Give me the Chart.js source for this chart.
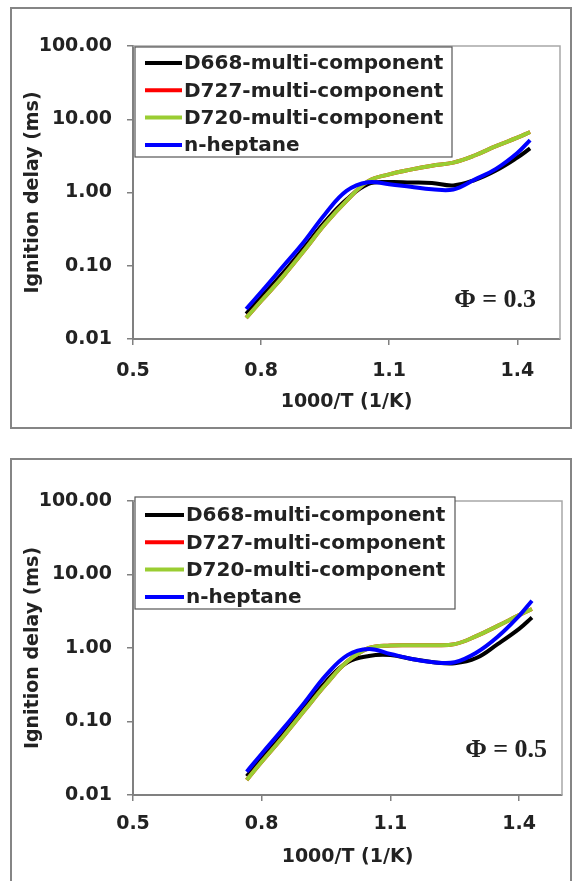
<!DOCTYPE html>
<html>
<head>
<meta charset="utf-8">
<script src="https://cdn.jsdelivr.net/npm/chart.js@4/dist/chart.umd.min.js"></script>
<style>
  html, body { margin: 0; padding: 0; background: #fff; }
  body { width: 576px; height: 881px; position: relative; overflow: hidden; }
  .frame { position: absolute; border: 2px solid #858585; box-sizing: border-box; }
  canvas { position: absolute; left: 0; }
</style>
</head>
<body>
<div class="frame" style="left:10px;top:7px;width:562px;height:422px"></div>
<div class="frame" style="left:10px;top:458px;width:562px;height:470px"></div>
<canvas id="phi03" width="576" height="440" style="top:0"></canvas>
<canvas id="phi05" width="576" height="441" style="top:440px"></canvas>
<script>
// 1000/T (1/K) sample positions shared by all curves
const xValues = [0.765, 0.80, 0.85, 0.90, 0.95, 1.00, 1.05, 1.10, 1.15, 1.20, 1.25, 1.30, 1.35, 1.40, 1.43];

const seriesNames = ['D668-multi-component', 'D727-multi-component', 'D720-multi-component', 'n-heptane'];
const seriesColors = ['#000000', '#ff0000', '#9acd32', '#0000ff'];
// later series are drawn over earlier ones
const seriesOrder = [4, 3, 2, 1];

const yTickValues = [0.01, 0.1, 1, 10, 100];
const xTickValues = [0.5, 0.8, 1.1, 1.4];

// Ignition delay (ms), equivalence ratio 0.3
const d668Phi03 = [0.022, 0.037, 0.078, 0.175, 0.40, 0.80, 1.30, 1.39, 1.37, 1.35, 1.25, 1.48, 2.0, 3.0, 4.0];
const d727Phi03 = [0.0194, 0.033, 0.070, 0.159, 0.372, 0.77, 1.42, 1.77, 2.05, 2.32, 2.56, 3.2, 4.3, 5.6, 6.7];
const d720Phi03 = [0.0194, 0.033, 0.070, 0.159, 0.372, 0.77, 1.42, 1.77, 2.05, 2.32, 2.56, 3.2, 4.3, 5.6, 6.7];
const heptanePhi03 = [0.0257, 0.0438, 0.096, 0.211, 0.509, 1.05, 1.38, 1.30, 1.20, 1.11, 1.10, 1.50, 2.1, 3.46, 5.2];

// Ignition delay (ms), equivalence ratio 0.5
const d668Phi05 = [0.018, 0.031, 0.067, 0.155, 0.35, 0.64, 0.78, 0.80, 0.71, 0.64, 0.62, 0.73, 1.13, 1.82, 2.6];
const d727Phi05 = [0.016, 0.0283, 0.062, 0.142, 0.321, 0.66, 1.0, 1.08, 1.09, 1.09, 1.13, 1.45, 2.0, 2.8, 3.4];
const d720Phi05 = [0.016, 0.0283, 0.062, 0.142, 0.321, 0.66, 1.0, 1.08, 1.09, 1.09, 1.13, 1.45, 2.0, 2.8, 3.4];
const heptanePhi05 = [0.0207, 0.0365, 0.080, 0.182, 0.427, 0.80, 0.97, 0.83, 0.71, 0.64, 0.64, 0.86, 1.42, 2.74, 4.4];

const SANS = '"DejaVu Sans", sans-serif';
const TEXT = '#222222';
const AXIS = '#808080';

// Frame lines, boxed legend and the phi annotation
const panelDecor = {
  id: 'panelDecor',
  beforeDatasetsDraw(chart) {
    const { ctx, chartArea: a } = chart;
    ctx.save();
    ctx.strokeStyle = '#a8a8a8';
    ctx.lineWidth = 1.5;
    ctx.beginPath();
    ctx.moveTo(a.left, a.top);
    ctx.lineTo(a.right, a.top);
    ctx.lineTo(a.right, a.bottom);
    ctx.stroke();
    ctx.restore();
  },
  afterDatasetsDraw(chart, args, o) {
    const { ctx, chartArea: a } = chart;
    ctx.save();
    const L = o.legend;
    ctx.fillStyle = '#ffffff';
    ctx.fillRect(L.x, L.y, L.w, L.h);
    ctx.strokeStyle = '#555555';
    ctx.lineWidth = 1.2;
    ctx.strokeRect(L.x, L.y, L.w, L.h);
    ctx.font = 'bold 20px ' + SANS;
    ctx.textBaseline = 'middle';
    ctx.textAlign = 'left';
    chart.data.datasets.forEach((ds, i) => {
      const cy = L.row0 + i * L.gap;
      ctx.strokeStyle = ds.borderColor;
      ctx.lineWidth = 4;
      ctx.beginPath();
      ctx.moveTo(L.lineX0, cy);
      ctx.lineTo(L.lineX1, cy);
      ctx.stroke();
      ctx.fillStyle = TEXT;
      ctx.fillText(ds.label, L.textX, cy + 1);
    });
    ctx.font = 'bold 26px "Liberation Serif", "Times New Roman", serif';
    ctx.fillStyle = TEXT;
    ctx.textAlign = 'right';
    ctx.textBaseline = 'middle';
    ctx.fillText(o.phiText, a.right - o.phiRight, a.bottom - o.phiUp);
    ctx.restore();
  }
};

function makePanel(id, series, cfg) {
  const canvas = document.getElementById(id);
  const H = canvas.height;
  const datasets = series.map((vals, i) => ({
    label: seriesNames[i],
    data: xValues.map((x, k) => ({ x: x, y: vals[k] })),
    borderColor: seriesColors[i],
    backgroundColor: seriesColors[i],
    order: seriesOrder[i],
    borderWidth: 4,
    pointRadius: 0,
    fill: false,
    tension: 0.4
  }));
  return new Chart(canvas, {
    type: 'line',
    data: { datasets },
    plugins: [panelDecor],
    options: {
      responsive: false,
      animation: false,
      devicePixelRatio: 1,
      layout: { padding: { left: 0, top: cfg.top, right: 576 - cfg.right, bottom: 0 } },
      plugins: {
        legend: { display: false },
        tooltip: { enabled: false },
        panelDecor: { legend: cfg.legend, phiText: cfg.phiText, phiRight: cfg.phiRight, phiUp: cfg.phiUp }
      },
      scales: {
        x: {
          type: 'linear',
          min: 0.5,
          max: 1.5,
          afterBuildTicks: s => { s.ticks = xTickValues.map(v => ({ value: v })); },
          afterFit: s => { s.height = H - cfg.bottom; },
          ticks: {
            callback: v => Number(v).toFixed(1),
            font: { family: SANS, size: 19, weight: 'bold' },
            color: TEXT,
            padding: cfg.xTickPad,
            maxRotation: 0,
            autoSkip: false
          },
          grid: { drawOnChartArea: false, drawTicks: true, tickLength: 6, color: AXIS, lineWidth: 1.5 },
          border: { display: true, color: AXIS, width: 2 },
          title: {
            display: true,
            text: '1000/T (1/K)',
            font: { family: SANS, size: 19, weight: 'bold' },
            color: TEXT,
            padding: { top: 0, bottom: cfg.xTitlePad }
          }
        },
        y: {
          type: 'logarithmic',
          min: 0.01,
          max: 100,
          afterBuildTicks: s => { s.ticks = yTickValues.map(v => ({ value: v })); },
          afterFit: s => { s.width = 133; },
          ticks: {
            callback: v => Number(v).toFixed(2),
            font: { family: SANS, size: 19, weight: 'bold' },
            color: TEXT,
            padding: 15,
            autoSkip: false
          },
          grid: { drawOnChartArea: false, drawTicks: true, tickLength: 6, color: AXIS, lineWidth: 1.5 },
          border: { display: true, color: AXIS, width: 2 },
          title: {
            display: true,
            text: 'Ignition delay (ms)',
            font: { family: SANS, size: 19, weight: 'bold' },
            color: TEXT,
            padding: { top: 22, bottom: 0 }
          }
        }
      }
    }
  });
}

makePanel('phi03', [d668Phi03, d727Phi03, d720Phi03, heptanePhi03], {
  top: 46, bottom: 339, right: 560,
  xTickPad: 15, xTitlePad: 26.6,
  phiText: 'Φ = 0.3', phiRight: 24, phiUp: 39,
  legend: { x: 135, y: 47, w: 317, h: 110, row0: 63, gap: 27.3, lineX0: 145, lineX1: 182, textX: 184 }
});

makePanel('phi05', [d668Phi05, d727Phi05, d720Phi05, heptanePhi05], {
  top: 61, bottom: 355, right: 562,
  xTickPad: 12, xTitlePad: 12.6,
  phiText: 'Φ = 0.5', phiRight: 15, phiUp: 45,
  legend: { x: 135, y: 57, w: 320, h: 112, row0: 75, gap: 27.3, lineX0: 145, lineX1: 184, textX: 186 }
});
</script>
</body>
</html>
